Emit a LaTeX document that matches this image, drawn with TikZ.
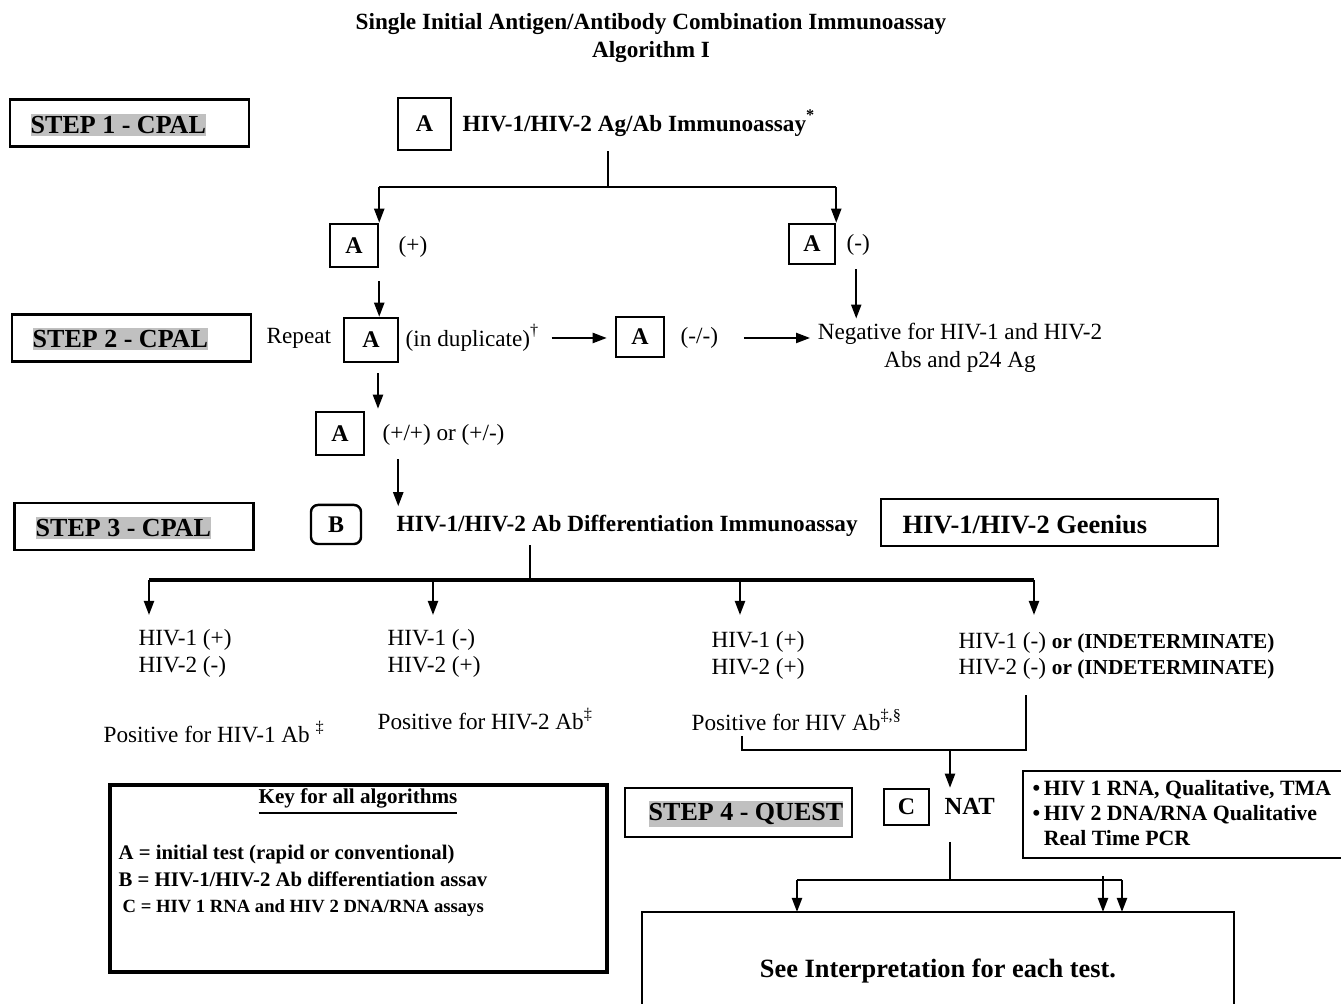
\documentclass[tikz,border=0pt]{standalone}
\usepackage{fontspec}
\setmainfont{Liberation Serif}
\usetikzlibrary{arrows.meta, positioning, calc}
\definecolor{stephl}{RGB}{192,192,192}
\newcommand{\fsz}[2]{\fontsize{#1}{#2}\selectfont}

\begin{document}
\begin{tikzpicture}[
    x=0.01cm, y=-0.01cm,
    every node/.style={inner sep=0pt},
    box/.style={draw, line width=0.7pt},
    testbox/.style={box, minimum width=0.48cm, minimum height=0.43cm, font=\fsz{6.8}{8}\bfseries},
    stepframe/.style={box, minimum width=2.39cm, minimum height=0.47cm},
    steptxt/.style={fill=stephl, inner ysep=0.6pt, anchor=west, font=\fsz{7.4}{9}\bfseries},
    lbl/.style={anchor=west, font=\fsz{6.6}{8}},
    blbl/.style={anchor=west, font=\fsz{6.6}{8}\bfseries},
    twoline/.style={anchor=west, align=left, font=\fsz{6.6}{7.7}},
    line/.style={line width=0.6pt},
    arr/.style={line, -{Triangle[length=1.4mm, width=1mm]}},
]

\useasboundingbox (0,0) rectangle (1341,1004);

% ===== Title =====
\node[align=center, font=\fsz{6.6}{7.7}\bfseries] (title) at (651,38)
  {Single Initial Antigen/Antibody Combination Immunoassay\\Algorithm I};

% ===== Step labels =====
\node[stepframe] (s1box) at (129.5,123) {};
\node[steptxt] (s1) at (30,125) {STEP 1 - CPAL};
\node[stepframe] (s2box) at (131.5,338) {};
\node[steptxt] (s2) at (32,339) {STEP 2 - CPAL};
\node[stepframe] (s3box) at (134,526.5) {};
\node[steptxt] (s3) at (35,528) {STEP 3 - CPAL};
\node[stepframe, minimum width=2.27cm, minimum height=0.49cm] (s4box) at (738.5,812.5) {};
\node[steptxt] (s4) at (648,814) {STEP 4 - QUEST};

% ===== Step 1: initial immunoassay =====
\node[testbox, minimum width=0.53cm, minimum height=0.52cm] (A0) at (424.5,124) {A};
\node[blbl] (A0lbl) at (462,123) {HIV-1/HIV-2 Ag/Ab Immunoassay\textsuperscript{*}};
\node[testbox] (Apos) at (354,245.5) {A};
\node[lbl] (posmark) at (398,247) {(+)};
\node[testbox, minimum width=0.46cm, minimum height=0.40cm] (Aneg) at (812,244) {A};
\node[lbl] (negmark) at (846,245) {(-)};

\coordinate (split1) at (608,187);
\draw[line] (split1 |- A0.south) -- (split1);
\draw[line] (Apos.north east |- split1) -- (Aneg.north east |- split1);
\draw[arr] (Apos.north east |- split1) -- (Apos.north east);
\draw[arr] (Aneg.north east |- split1) -- (Aneg.north east);

% ===== Step 2: repeat in duplicate =====
\node[lbl] (rep) at (266,338) {Repeat};
\node[testbox, minimum width=0.54cm, minimum height=0.44cm] (Arep) at (371,340) {A};
\node[lbl] (dupl) at (405,338) {(in duplicate)\textsuperscript{\textdagger}};
\node[testbox, minimum height=0.40cm] (Adup) at (640,337) {A};
\node[lbl] (dupneg) at (680,338) {(-/-)};
\node[align=center, font=\fsz{6.6}{8}] (negres) at (960,348)
  {Negative for HIV-1 and HIV-2\\Abs and p24 Ag};

\draw[arr] ($(Apos.south east)+(0,13)$) -- (Apos.south east |- Arep.north);
\draw[arr] ($(dupl.east)+(11,0)$) -- ($(dupl.east -| Adup.west)+(-8,0)$);
\draw[arr] ($(dupneg.east)+(25,0)$) -- ($(dupneg.east -| negres.west)+(-7,0)$);
\draw[arr] ($(Aneg.south east)+(20,4)$) -- ($(Aneg.south east |- negres.north)+(20,-4)$);

\node[testbox] (A3) at (340,433.5) {A};
\node[lbl] (both) at (382,435) {(+/+) or (+/-)};
\draw[arr] ($(Arep.south)+(7,10)$) -- ($(Arep.south |- A3.north)+(7,-2)$);

% ===== Step 3: differentiation =====
\node[testbox, rounded corners=2pt, minimum width=0.50cm, minimum height=0.39cm] (B) at (336,524.5) {B};
\node[blbl] (Blbl) at (396,526) {HIV-1/HIV-2 Ab Differentiation Immunoassay};
\node[box, minimum width=3.37cm, minimum height=0.47cm] (gbox) at (1049.5,522.5) {};
\node[blbl, font=\fsz{7.5}{9}\bfseries] (geenius) at (902,525) {HIV-1/HIV-2 Geenius};
\draw[arr] ($(A3.south east)+(33,3)$) -- ($(A3.south east)+(33,50)$);

\coordinate (split2) at (530,580);
\draw[line] ($(Blbl.south -| split2)+(0,8)$) -- (split2);
\coordinate (r1top) at (149,615);
\coordinate (r2top) at (433,615);
\coordinate (r3top) at (740,615);
\coordinate (r4top) at (1034,615);
\draw[line, line width=0.9pt] (r1top |- split2) -- (r4top |- split2);
\foreach \t in {r1top,r2top,r3top,r4top}
  \draw[arr] (\t |- split2) -- (\t);

\node[twoline] (r1) at (138,653.5) {HIV-1 (+)\\HIV-2 (-)};
\node[twoline] (r2) at (387,653.5) {HIV-1 (-)\\HIV-2 (+)};
\node[twoline] (r3) at (711,655) {HIV-1 (+)\\HIV-2 (+)};
\node[twoline, font=\fsz{6.6}{7.4}] (r4) at (958,656)
  {HIV-1 (-) {\fsz{6.05}{7.4}\bfseries or (INDETERMINATE)}\\HIV-2 (-) {\fsz{6.05}{7.4}\bfseries or (INDETERMINATE)}};

\node[lbl] (p1) at (103,732) {Positive for HIV-1 Ab \textsuperscript{\textdaggerdbl}};
\node[lbl] (p2) at (377,719) {Positive for HIV-2 Ab\textsuperscript{\textdaggerdbl}};
\node[lbl] (p3) at (691,720) {Positive for HIV Ab\textsuperscript{\textdaggerdbl,\S}};

% join of HIV Ab and indeterminate results
\coordinate (m1) at (742,736);
\coordinate (m2) at (1026,695);
\coordinate (mj) at (950,750);
\draw[line] (m1) |- (mj) -| (m2);

% ===== Step 4: NAT =====
\node[testbox, minimum width=0.45cm, minimum height=0.36cm] (C) at (906.5,807) {C};
\node[blbl, font=\fsz{7}{8}\bfseries] (nat) at (944,806) {NAT};
\draw[arr] (mj) -- (mj |- C.north);

\node[box, minimum width=3.22cm, minimum height=0.87cm] (natbox) at (1184,814.5) {};
\node[align=left, anchor=north west, font=\fsz{6.2}{7.1}\bfseries] (natlist) at (1032,780)
  {\textbullet\,HIV 1 RNA, Qualitative, TMA\\\textbullet\,HIV 2 DNA/RNA Qualitative\\\hphantom{\textbullet\,}Real Time PCR};

\coordinate (split3) at (950,880);
\draw[line] ($(mj |- nat.south)+(0,27)$) -- (split3);
\coordinate (i1) at (797,912);
\coordinate (i2) at (1103,912);
\coordinate (i3) at (1122,912);
\draw[line] (i1 |- split3) -- (i3 |- split3);
\draw[arr] (i1 |- split3) -- (i1);
\draw[arr] ($(i2 |- split3)+(0,-4)$) -- (i2);
\draw[arr] (i3 |- split3) -- (i3);

\node[box, minimum width=5.92cm, minimum height=1.0cm] (interp) at (938,962) {};
\node[font=\fsz{7.5}{9}\bfseries] (interptxt) at (938,971) {See Interpretation for each test.};

% ===== Key =====
\node[box, line width=1pt, minimum width=4.97cm, minimum height=1.87cm] (key) at (358.5,878.5) {};
\node[font=\fsz{6}{7}\bfseries] (keyttl) at (358,802) {\underline{Key for all algorithms}};
\node[blbl, font=\fsz{5.9}{7}\bfseries] (keyA) at (118,855) {A = initial test (rapid or conventional)};
\node[blbl, font=\fsz{5.9}{7}\bfseries] (keyB) at (118,879) {B = HIV-1/HIV-2 Ab differentiation assav};
\node[blbl, font=\fsz{5.3}{6}\bfseries] (keyC) at (122,908) {C = HIV 1 RNA and HIV 2 DNA/RNA assays};

\end{tikzpicture}
\end{document}
